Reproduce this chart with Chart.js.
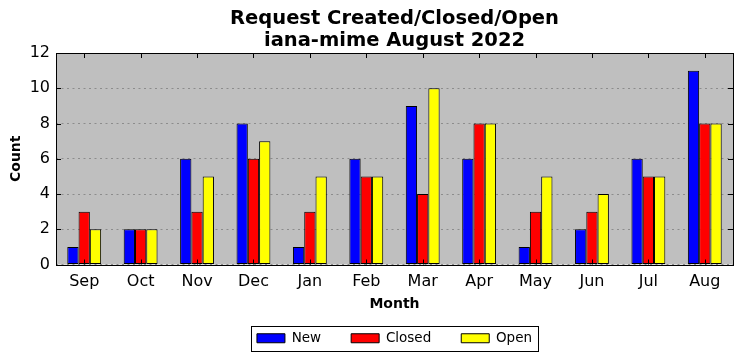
<!DOCTYPE html>
<html>
<head>
<meta charset="utf-8">
<script src="https://cdn.jsdelivr.net/npm/chart.js@4"></script>
<style>
  body { margin: 0; background: #fff; }
  #wrap { width: 741px; height: 361px; }
</style>
</head>
<body>
<div id="wrap"><canvas id="myChart"></canvas></div>
<script>
var months = ['Sep', 'Oct', 'Nov', 'Dec', 'Jan', 'Feb', 'Mar', 'Apr', 'May', 'Jun', 'Jul', 'Aug'];
var newCount = [1, 2, 6, 8, 1, 6, 9, 6, 1, 2, 6, 11];
var closedCount = [3, 2, 3, 6, 3, 5, 4, 8, 3, 3, 5, 8];
var openCount = [2, 2, 5, 7, 5, 5, 10, 8, 5, 4, 5, 8];
var titleLines = ['Request Created/Closed/Open', 'iana-mime August 2022'];

var FONT = "'DejaVu Sans', sans-serif";

// grey plot background, frame, inward ticks, title and legend box
var framePlugin = {
  id: 'frame',
  beforeDraw: function(chart) {
    var a = chart.chartArea;
    var ctx = chart.ctx;
    ctx.save();
    ctx.fillStyle = '#bfbfbf';
    ctx.fillRect(a.left, a.top, a.right - a.left, a.bottom - a.top);
    ctx.restore();
  },
  afterDraw: function(chart) {
    var a = chart.chartArea;
    var ctx = chart.ctx;
    var x = chart.scales.x, y = chart.scales.y;
    ctx.save();
    ctx.strokeStyle = '#000';
    ctx.lineWidth = 1;
    ctx.beginPath();
    x.ticks.forEach(function(t, i) {
      var px = Math.round(x.getPixelForTick(i)) + 0.5;
      ctx.moveTo(px, a.bottom); ctx.lineTo(px, a.bottom - 5);
      ctx.moveTo(px, a.top); ctx.lineTo(px, a.top + 5);
    });
    y.ticks.forEach(function(t, i) {
      var py = Math.round(y.getPixelForTick(i)) + 0.5;
      ctx.moveTo(a.left, py); ctx.lineTo(a.left + 5, py);
      ctx.moveTo(a.right, py); ctx.lineTo(a.right - 5, py);
    });
    ctx.stroke();
    ctx.strokeRect(Math.round(a.left) + 0.5, Math.round(a.top) + 0.5,
      Math.round(a.right - a.left), Math.round(a.bottom - a.top));

    // title
    var cx = (a.left + a.right) / 2;
    ctx.fillStyle = '#000';
    ctx.font = 'bold 19.5px ' + FONT;
    ctx.textAlign = 'center';
    ctx.textBaseline = 'middle';
    ctx.fillText(titleLines[0], cx, 19);
    ctx.fillText(titleLines[1], cx, 41);

    // legend border
    var boxes = chart.legend.legendHitBoxes;
    if (boxes && boxes.length) {
      var l = Infinity, r = -Infinity, tp = Infinity, b = -Infinity;
      boxes.forEach(function(h) {
        l = Math.min(l, h.left); r = Math.max(r, h.left + h.width);
        tp = Math.min(tp, h.top); b = Math.max(b, h.top + h.height);
      });
      ctx.strokeRect(Math.round(l - 6) + 0.5, Math.round(tp - 6) + 0.5,
        Math.round(r - l + 12), Math.round(b - tp + 11));
    }
    ctx.restore();
  }
};

var ctx = document.getElementById('myChart').getContext('2d');
var myChart = new Chart(ctx, {
  type: 'bar',
  data: {
    labels: months,
    datasets: [{
      label: 'New',
      data: newCount,
      backgroundColor: '#0000ff'
    }, {
      label: 'Closed',
      data: closedCount,
      backgroundColor: '#ff0000'
    }, {
      label: 'Open',
      data: openCount,
      backgroundColor: '#ffff00'
    }]
  },
  options: {
    responsive: true,
    maintainAspectRatio: false,
    animation: false,
    layout: { padding: { top: 53, right: 8, left: 8, bottom: 6 } },
    datasets: {
      bar: {
        borderColor: '#000',
        borderWidth: 1,
        borderSkipped: false,
        categoryPercentage: 0.6,
        barPercentage: 1.0
      }
    },
    plugins: {
      title: { display: false },
      tooltip: { enabled: false },
      legend: {
        position: 'bottom',
        fullSize: false,
        labels: {
          boxWidth: 28,
          boxHeight: 9,
          padding: 30,
          color: '#000',
          font: { family: FONT, size: 13.5 }
        }
      }
    },
    scales: {
      x: {
        grid: { display: false, drawTicks: false },
        border: { display: false },
        ticks: { color: '#000', padding: 8, font: { family: FONT, size: 16 }, maxRotation: 0 },
        title: {
          display: true,
          text: 'Month',
          color: '#000',
          padding: { top: 0, bottom: -11 },
          font: { family: FONT, size: 14, weight: 'bold' }
        },
        afterFit: function(scale) { scale.height = 37; }
      },
      y: {
        min: 0,
        max: 12,
        grid: { color: '#8c8c8c', drawTicks: false, lineWidth: 1 },
        border: { display: false, dash: [2, 3.5] },
        ticks: { stepSize: 2, color: '#000', padding: 6, font: { family: FONT, size: 16 } },
        title: {
          display: true,
          text: 'Count',
          color: '#000',
          padding: { top: 0, bottom: 4 },
          font: { family: FONT, size: 14, weight: 'bold' }
        },
        afterFit: function(scale) { scale.width = 48; }
      }
    }
  },
  plugins: [framePlugin]
});
</script>
</body>
</html>
